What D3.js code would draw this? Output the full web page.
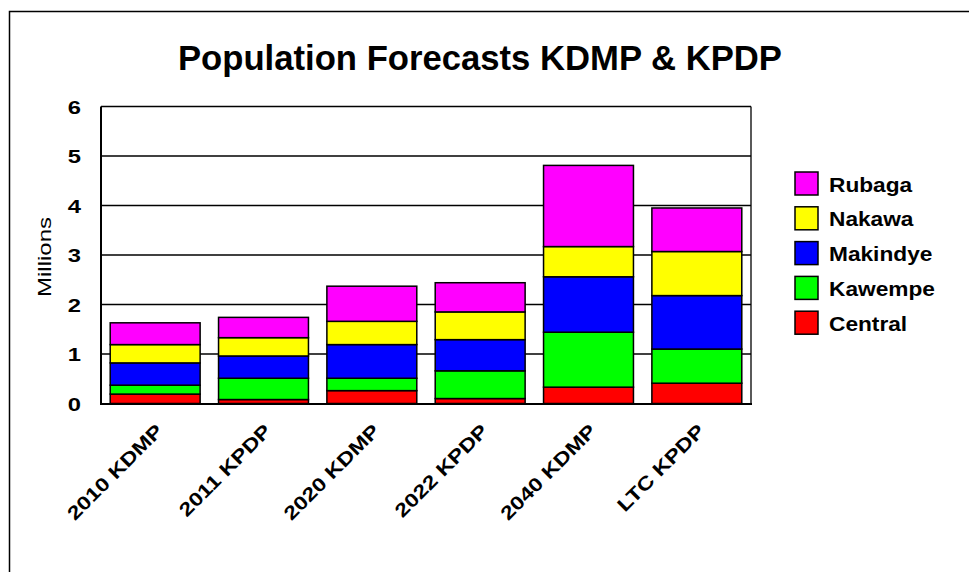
<!DOCTYPE html>
<html><head><meta charset="utf-8">
<script src="https://cdn.jsdelivr.net/npm/d3@7"></script>
<style>body{margin:0;background:#fff}svg{display:block}text{font-family:"Liberation Sans",Arial,sans-serif}</style>
</head><body>
<script>
const categories = ["2010 KDMP","2011 KPDP","2020 KDMP","2022 KPDP","2040 KDMP","LTC KPDP"];
const central  = [0.19,0.08,0.26,0.10,0.33,0.41];
const kawempe  = [0.18,0.43,0.25,0.56,1.11,0.69];
const makindye = [0.45,0.45,0.68,0.63,1.12,1.08];
const nakawa   = [0.37,0.37,0.47,0.56,0.61,0.89];
const rubaga   = [0.44,0.41,0.71,0.59,1.64,0.88];
const seriesNames = ["Central","Kawempe","Makindye","Nakawa","Rubaga"];
const seriesColors = ["#ff0000","#00ff00","#0000ff","#ffff00","#ff00ff"];
const yTicks = [0,1,2,3,4,5,6];
const title = "Population Forecasts KDMP & KPDP";
const yTitle = "Millions";

const W = 969, H = 572;
const svg = d3.select("body").append("svg").attr("width", W).attr("height", H);

function stretch(sel, f){ sel.each(function(){ const n=this.getComputedTextLength(); this.setAttribute("textLength", n*f); this.setAttribute("lengthAdjust","spacingAndGlyphs"); }); }

// outer frame
svg.append("rect").attr("x",9.5).attr("y",11.5).attr("width",1200).attr("height",1200)
  .attr("fill","none").attr("stroke","#000").attr("stroke-width",1.5);

const x = d3.scaleBand().domain(categories).range([101,751]).paddingInner(0.17).paddingOuter(0.085);
const y = d3.scaleLinear().domain([0,6]).range([403.5,106.5]);

// gridlines
svg.append("g").selectAll("line").data(yTicks.filter(d=>d>0)).join("line")
  .attr("x1",101).attr("x2",751).attr("y1",d=>y(d)).attr("y2",d=>y(d))
  .attr("stroke","#000").attr("stroke-width",1.3);
// right border
svg.append("line").attr("x1",751).attr("x2",751).attr("y1",y(6)).attr("y2",y(0)).attr("stroke","#000").attr("stroke-width",1.3);

// stacked bars
const table = categories.map((c,i)=>({cat:c, Central:central[i], Kawempe:kawempe[i], Makindye:makindye[i], Nakawa:nakawa[i], Rubaga:rubaga[i]}));
const stack = d3.stack().keys(seriesNames)(table);
svg.append("g").selectAll("g").data(stack).join("g")
  .attr("fill",(d,i)=>seriesColors[i])
  .selectAll("rect").data(d=>d).join("rect")
  .attr("x",d=>x(d.data.cat)).attr("width",x.bandwidth())
  .attr("y",d=>y(d[1])).attr("height",d=>y(d[0])-y(d[1]))
  .attr("stroke","#000").attr("stroke-width",1.5);

// axes lines
svg.append("line").attr("x1",101).attr("x2",101).attr("y1",y(6)).attr("y2",y(0)+1).attr("stroke","#000").attr("stroke-width",2);
svg.append("line").attr("x1",100).attr("x2",752).attr("y1",y(0)+0.5).attr("y2",y(0)+0.5).attr("stroke","#000").attr("stroke-width",2);

// y tick labels
const yl = svg.append("g").selectAll("text").data(yTicks).join("text")
  .attr("x",81).attr("y",d=>y(d)+7).attr("text-anchor","end")
  .attr("font-size",19).attr("font-weight","bold").text(d=>d);
stretch(yl,1.25);

// y title
const yt = svg.append("text").attr("transform","translate(51,257) rotate(-90)").attr("text-anchor","middle")
  .attr("font-size",18).text(yTitle);
yt.attr("textLength",80).attr("lengthAdjust","spacingAndGlyphs");

// x labels
const xl = svg.append("g").selectAll("text").data(categories).join("text")
  .attr("transform",d=>`translate(${x(d)+x.bandwidth()/2+9},432) rotate(-45)`)
  .attr("text-anchor","end").attr("font-size",19).attr("font-weight","bold").text(d=>d);
stretch(xl,1.22);

// title
svg.append("text").attr("x",480).attr("y",70).attr("text-anchor","middle")
  .attr("font-size",35).attr("font-weight","bold").text(title)
  .attr("textLength",604).attr("lengthAdjust","spacingAndGlyphs");

// legend
const legendOrder = [4,3,2,1,0];
const lg = svg.append("g").selectAll("g").data(legendOrder).join("g")
  .attr("transform",(d,i)=>`translate(795,${172+i*34.8})`);
lg.append("rect").attr("width",23).attr("height",23).attr("fill",d=>seriesColors[d]).attr("stroke","#000").attr("stroke-width",1.5);
const lt = lg.append("text").attr("x",34).attr("y",19.5).attr("font-size",21).attr("font-weight","bold").text(d=>seriesNames[d]);
stretch(lt,1.08);
</script>
</body></html>
